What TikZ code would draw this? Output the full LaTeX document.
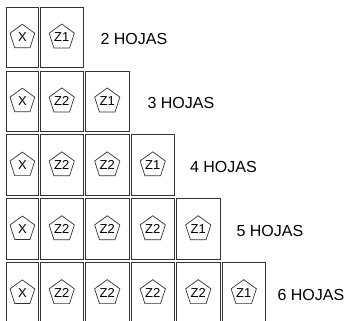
\documentclass[tikz,border=0pt]{standalone}
\usepackage{fontspec}
\setmainfont{Liberation Sans}
\usetikzlibrary{shapes.geometric,positioning}
\tikzset{
  hoja/.style={draw=black!80,line width=0.8pt,minimum width=43.5pt,minimum height=60.5pt,inner sep=0pt},
  hojax/.style={hoja,minimum width=31.3pt},
  marca/.style={draw=black!80,line width=0.7pt,regular polygon,regular polygon sides=5,
    minimum size=26pt,inner sep=0pt,font=\fontsize{13}{13}\selectfont},
  rotulo/.style={font=\fontsize{16}{16}\selectfont,anchor=west,inner sep=0pt,yshift=-2pt}
}
\begin{document}
\begin{tikzpicture}[x=1pt,y=-1pt]
\clip (0,0) rectangle (352,320);
\foreach \r/\g in {1/16.5,2/18,3/15,4/16,5/11.5} {
  \pgfmathsetmacro{\yc}{37.3+63.9*(\r-1)}
  \pgfmathtruncatemacro{\n}{\r+1}
  \node[hojax] (h\r-1) at (22.35,\yc) {};
  \node[marca] (m\r-1) at (h\r-1) {\raisebox{-1pt}{X}};
  \foreach \c in {2,...,\n} {
    \pgfmathsetmacro{\xc}{61.75+45.5*(\c-2)}
    \node[hoja] (h\r-\c) at (\xc,\yc) {};
    \node[marca] (m\r-\c) at (h\r-\c) {\raisebox{-1pt}{\ifnum\c=\n Z1\else Z2\fi}};
  }
  \node[rotulo,right=\g pt of h\r-\n] (t\r) {\n\ HOJAS};
}
\end{tikzpicture}
\end{document}
